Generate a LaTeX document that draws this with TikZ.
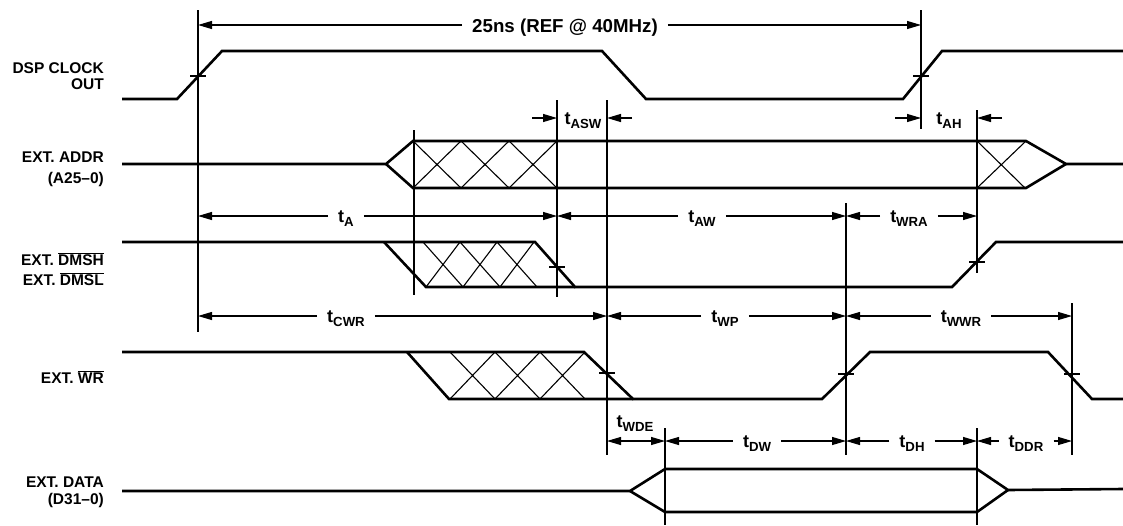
\documentclass[tikz,border=0pt]{standalone}
\usepackage{fontspec}
\setmainfont{Liberation Sans}
\usetikzlibrary{arrows.meta,calc}

\newcommand{\ovl}[1]{$\overline{\mbox{#1}}$}
\newcommand{\tsub}[1]{t\raisebox{-0.45ex}{\fontsize{13.2}{14}\selectfont #1}}

\tikzset{
	sig/.style={line width=2.6pt},
	fine/.style={line width=1.1pt},
	dimarr/.style={line width=1.1pt,-{Triangle[length=14pt,width=8pt]}},
	siglabel/.style={anchor=east,align=right,inner sep=0pt,
		font=\fontsize{15.5}{16}\selectfont\bfseries},
	tlabel/.style={anchor=base,inner xsep=10pt,inner ysep=1pt,
		font=\fontsize{18}{19}\selectfont\bfseries}
}

\begin{document}
\begin{tikzpicture}[x=1pt,y=-1pt]
	\useasboundingbox (0,0) rectangle (1123,525);

	% signal names
	\node[siglabel] (lclk) at (104,76) {DSP CLOCK\\OUT};
	\node[siglabel] (ladr) at (104,169) {EXT. ADDR\\[5pt](A25–0)};
	\node[siglabel] (ldms) at (104,269) {EXT. \ovl{DMSH}\\[4pt]EXT. \ovl{DMSL}};
	\node[siglabel] (lwr) at (104,377) {EXT. \ovl{WR}};
	\node[siglabel] (ldat) at (104,492) {EXT. DATA\\[1pt](D31–0)};

	% clock
	\draw[sig] (122,99) -- (177,99) -- (222,51) -- (602,51) -- (646,99)
		-- (903,99) -- (942,51) -- (1123,51);

	% address bus
	\draw[sig] (122,164) -- (386,164) -- (413,141) -- (1026,141) -- (1066,164) -- (1123,164);
	\draw[sig] (386,164) -- (413,188) -- (1026,188) -- (1066,164);
	\foreach \x in {413,461,509}
		\draw[fine] (\x,141) -- (\x+48,188) (\x,188) -- (\x+48,141);
	\draw[fine] (977,141) -- (1025,188) (977,188) -- (1026,141);

	% DMSH / DMSL
	\draw[sig] (122,242) -- (535,242) -- (575,287) -- (952,287) -- (996,242) -- (1123,242);
	\draw[sig] (384,242) -- (426,287) -- (575,287);
	\foreach \x in {423,460,497}
		\draw[fine] (\x,242) -- (\x+40,287) (\x+37,242) -- (\x+3,287);

	% WR
	\draw[sig] (122,352) -- (584,352) -- (633,399) -- (822,399) -- (870,352)
		-- (1048,352) -- (1092,399) -- (1123,399);
	\draw[sig] (407,352) -- (449,399) -- (633,399);
	\foreach \x in {450,495,540}
		\draw[fine] (\x,352) -- (\x+45,399) (\x+45,352) -- (\x,399);

	% data bus
	\draw[sig] (122,491) -- (630,491) -- (665,469) -- (977,469) -- (1008,490) -- (1123,489);
	\draw[sig] (630,491) -- (665,512) -- (977,512) -- (1008,490);

	% reference lines
	\coordinate (c1) at (198,10);   \coordinate (c1e) at (198,332);
	\coordinate (c2) at (921,10);   \coordinate (c2e) at (921,129);
	\coordinate (a1) at (414,130);  \coordinate (a1e) at (414,295);
	\coordinate (a2) at (557,100);  \coordinate (a2e) at (557,297);
	\coordinate (w1) at (607,100);  \coordinate (w1e) at (607,455);
	\coordinate (w2) at (846,203);  \coordinate (w2e) at (846,455);
	\coordinate (a3) at (977,110);  \coordinate (a3e) at (977,273);
	\coordinate (w3) at (1072,303); \coordinate (w3e) at (1072,455);
	\coordinate (d1) at (665,428);  \coordinate (d1e) at (665,525);
	\coordinate (d2) at (977,428);  \coordinate (d2e) at (977,525);
	\foreach \p in {c1,c2,a1,a2,w1,w2,a3,w3,d1,d2}
		\draw[fine] (\p) -- (\p e);

	% crossing ticks
	\foreach \x/\y in {198/76,921/76,557/267,977/262,607/373,846/374,1072/374}
		\draw[fine] (\x-8,\y) -- (\x+8,\y);

	% rows of timing arrows
	\coordinate (r25) at (0,25);
	\coordinate (rasw) at (0,118);
	\coordinate (ra) at (0,216);
	\coordinate (rcwr) at (0,316);
	\coordinate (rdw) at (0,441);

	\node[tlabel,font=\fontsize{18.7}{20}\selectfont\bfseries] (per) at (565,32) {25ns (REF @ 40MHz)};
	\draw[dimarr] (per.west |- r25) -- (c1 |- r25);
	\draw[dimarr] (per.east |- r25) -- (c2 |- r25);

	\node[tlabel] (tasw) at (583,124) {\tsub{ASW}};
	\draw[dimarr] ($(a2 |- rasw)+(-25,0)$) -- (a2 |- rasw);
	\draw[dimarr] ($(w1 |- rasw)+(25,0)$) -- (w1 |- rasw);

	\node[tlabel] (tah) at (949,124) {\tsub{AH}};
	\draw[dimarr] ($(c2 |- rasw)+(-26,0)$) -- (c2 |- rasw);
	\draw[dimarr] ($(a3 |- rasw)+(25,0)$) -- (a3 |- rasw);

	\node[tlabel] (ta) at (346,222) {\tsub{A}};
	\node[tlabel] (taw) at (702,222) {\tsub{AW}};
	\node[tlabel] (twra) at (909,222) {\tsub{WRA}};
	\draw[dimarr] (ta.west |- ra) -- (c1 |- ra);
	\draw[dimarr] (ta.east |- ra) -- (a2 |- ra);
	\draw[dimarr] (taw.west |- ra) -- (a2 |- ra);
	\draw[dimarr] (taw.east |- ra) -- (w2 |- ra);
	\draw[dimarr] (twra.west |- ra) -- (w2 |- ra);
	\draw[dimarr] (twra.east |- ra) -- (a3 |- ra);

	\node[tlabel] (tcwr) at (346,322) {\tsub{CWR}};
	\node[tlabel] (twp) at (725,322) {\tsub{WP}};
	\node[tlabel] (twwr) at (961,322) {\tsub{WWR}};
	\draw[dimarr] (tcwr.west |- rcwr) -- (c1 |- rcwr);
	\draw[dimarr] (tcwr.east |- rcwr) -- (w1 |- rcwr);
	\draw[dimarr] (twp.west |- rcwr) -- (w1 |- rcwr);
	\draw[dimarr] (twp.east |- rcwr) -- (w2 |- rcwr);
	\draw[dimarr] (twwr.west |- rcwr) -- (w2 |- rcwr);
	\draw[dimarr] (twwr.east |- rcwr) -- (w3 |- rcwr);

	\node[tlabel] (twde) at (635,427) {\tsub{WDE}};
	\draw[dimarr,{Triangle[length=14pt,width=8pt]}-{Triangle[length=14pt,width=8pt]}]
		(w1 |- rdw) -- (d1 |- rdw);

	\node[tlabel] (tdw) at (757,447) {\tsub{DW}};
	\node[tlabel] (tdh) at (912,447) {\tsub{DH}};
	\node[tlabel] (tddr) at (1026,447) {\tsub{DDR}};
	\draw[dimarr] (tdw.west |- rdw) -- (d1 |- rdw);
	\draw[dimarr] (tdw.east |- rdw) -- (w2 |- rdw);
	\draw[dimarr] (tdh.west |- rdw) -- (w2 |- rdw);
	\draw[dimarr] (tdh.east |- rdw) -- (d2 |- rdw);
	\draw[dimarr] (tddr.west |- rdw) -- (d2 |- rdw);
	\draw[dimarr] (tddr.east |- rdw) -- (w3 |- rdw);
\end{tikzpicture}
\end{document}
